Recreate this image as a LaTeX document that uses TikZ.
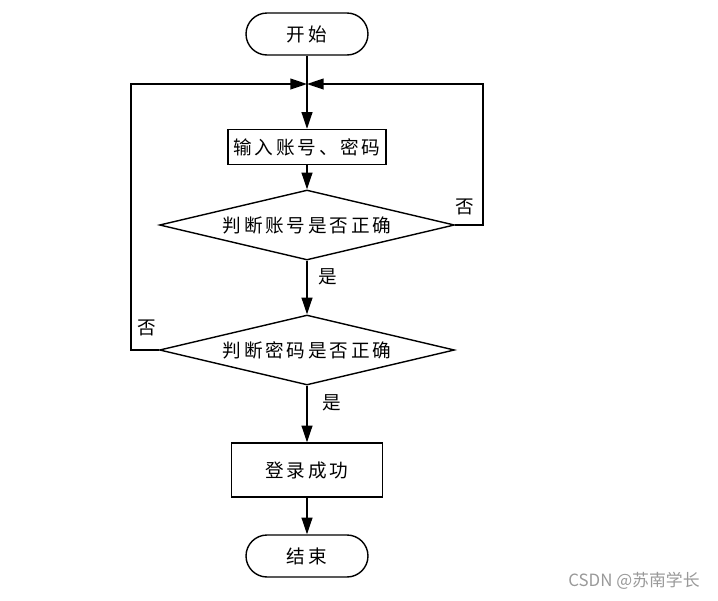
\documentclass[tikz,border=0pt]{standalone}
\usepackage{fontspec}
\setmainfont{Noto Sans CJK SC}
\newfontfamily\cjk[LetterSpace=15]{Noto Sans CJK SC}
\newfontfamily\wm{Noto Sans CJK SC}
\usetikzlibrary{shapes.geometric,arrows.meta}
\begin{document}
\begin{tikzpicture}[x=0.02cm,y=-0.02cm,
  every node/.style={font=\cjk\fontsize{10.6}{12}\selectfont},
  term/.style={draw,line width=0.8pt,rounded corners=0.42cm,minimum width=2.44cm,minimum height=0.84cm,inner sep=0pt},
  proc/.style={draw,line width=0.8pt,inner sep=0pt},
  dec/.style={draw,line width=0.8pt,diamond,shape aspect=4.2,inner sep=0pt,minimum width=5.9cm,minimum height=1.4cm},
  lbl/.style={inner sep=0pt},
  arr/.style={line width=0.8pt,-{Triangle[length=9.5pt,width=6.2pt]}},
  ln/.style={line width=0.8pt}]
\useasboundingbox (0,0) rectangle (718,600);
\node[term] (start) at (307,34) {开始};
\coordinate (j) at (307,84);
\node[proc,minimum width=3.16cm,minimum height=0.7cm] (input) at (307,147) {输入账号、密码};
\node[dec] (d1) at (307,225) {判断账号是否正确};
\node[dec] (d2) at (307,350) {判断密码是否正确};
\node[proc,minimum width=3.02cm,minimum height=1.08cm] (ok) at (307,470) {登录成功};
\node[term] (end) at (307,556) {结束};
\draw[arr] (start) -- (input);
\draw[arr] (input) -- (d1);
\draw[arr] (d1) -- node[lbl,pos=0.3,xshift=0.42cm] {是} (d2);
\draw[arr] (d2) -- node[lbl,pos=0.3,xshift=0.5cm] {是} (ok);
\draw[arr] (ok) -- (end);
\draw[arr] (d1.east) -- ++(28,0) |- (j);
\draw[arr] (d2.west) -- ++(-28,0) |- (j);
\node[lbl] (no1) at (465,207) {否};
\node[lbl] (no2) at (147,328) {否};
\node[inner sep=0pt,text=black!40,font=\wm\fontsize{9.6}{11}\selectfont] (wmark) at (634,581) {CSDN @苏南学长};
\end{tikzpicture}
\end{document}
